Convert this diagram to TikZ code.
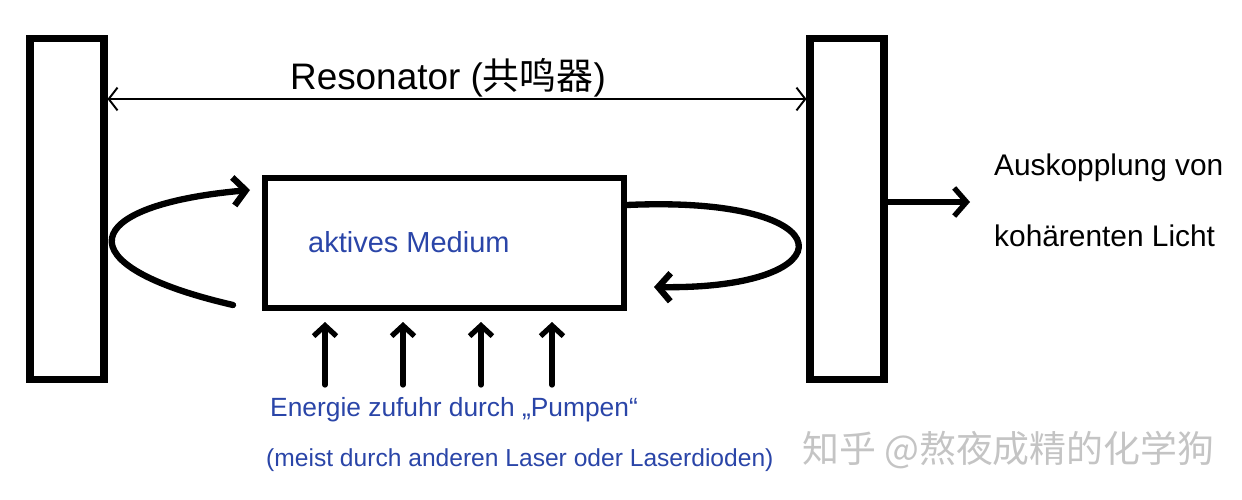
\documentclass[tikz,border=0pt]{standalone}
\usepackage{fontspec}
\setmainfont{Liberation Sans}
\newfontfamily\cjk{Noto Sans CJK SC}
\usetikzlibrary{arrows.meta}
\definecolor{inkblue}{HTML}{2A45A8}
\definecolor{wmgrey}{HTML}{C4C4C4}
\begin{document}
\begin{tikzpicture}[x=0.02cm,y=-0.02cm,
  mirror/.style={draw, line width=4pt, minimum width=1.48cm, minimum height=6.84cm, inner sep=0pt},
  medbox/.style={draw, line width=3.4pt, minimum width=7.18cm, minimum height=2.6cm, inner sep=0pt},
  loopar/.style={line width=3.6pt, line cap=round, -{Straight Barb[length=7pt,width=16pt,line width=3.6pt]}},
  pumpar/.style={line width=3pt, line cap=round, -{Straight Barb[length=6pt,width=13pt,line width=3pt]}},
  resoar/.style={line width=1.1pt, {Straight Barb[length=5pt,width=13pt]}-{Straight Barb[length=5pt,width=13pt]}},
  outar/.style={line width=3pt, -{Straight Barb[length=7pt,width=16pt,line width=3pt]}},
  blacktext/.style={font=\fontsize{17}{20}\selectfont},
  bluetext/.style={text=inkblue, anchor=west},
]
\useasboundingbox (0,0) rectangle (1242,500);
% mirrors and medium
\node[mirror] (lm) at (67,209) {};
\node[mirror] (rm) at (847,209) {};
\node[medbox] (med) at (444.5,243) {};
% resonator
\coordinate (resy) at (0,99);
\draw[resoar] (lm.east |- resy) -- (rm.west |- resy);
\node[font=\fontsize{21}{24}\selectfont] (restext) at (448,78) {Resonator ({\cjk 共鸣器})};
\node[bluetext, font=\fontsize{16.5}{19}\selectfont] (medtext) at (302,242) {aktives Medium};
% circulating light
\coordinate (l1) at (233,305);
\coordinate (l2) at (250,190);
\draw[loopar] (l1) .. controls (60,265) and (80,205) .. (l2);
\coordinate (r1) at (654,287);
\draw[loopar] (med.east |- 0,205) .. controls (850,195) and (850,290) .. (r1);
% output
\coordinate (outend) at (970,202);
\draw[outar] (rm.east |- outend) -- (outend);
\node[blacktext, anchor=west] (out1) at (988,168) {Auskopplung von};
\node[blacktext, anchor=west] (out2) at (988,236) {kohärenten Licht};
% pumping
\foreach \i/\x in {1/325,2/403,3/481,4/552}{
  \coordinate (pb\i) at (\x,385);
  \coordinate (pt\i) at (\x,322);
  \draw[pumpar] (pb\i) -- (pt\i);
}
\node[bluetext, font=\fontsize{15}{18}\selectfont] (pump1) at (264,410) {Energie zufuhr durch „Pumpen“};
\node[bluetext, font=\fontsize{14}{17}\selectfont] (pump2) at (260,460) {(meist durch anderen Laser oder Laserdioden)};
% watermark
\node[text=wmgrey, anchor=west, font=\cjk\fontsize{21}{24}\selectfont] (wm) at (796,450) {知乎 @熬夜成精的化学狗};
\end{tikzpicture}
\end{document}
